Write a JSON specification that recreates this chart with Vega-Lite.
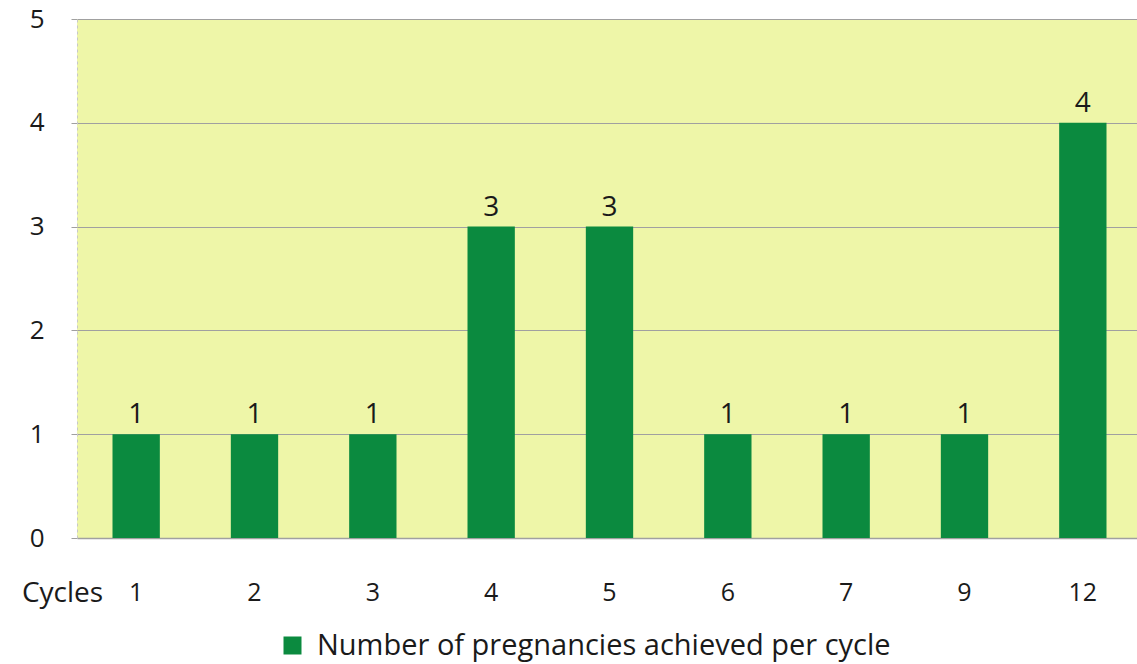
{
  "$schema": "https://vega.github.io/schema/vega-lite/v6.json",
  "width": 1065,
  "height": 519,
  "autosize": {"type": "none"},
  "padding": {"left": 77, "top": 19, "right": 0, "bottom": 126},
  "background": "#ffffff",
  "config": {
    "view": {"fill": "#eef6a8", "stroke": null},
    "font": "Open Sans",
    "axis": {"labelFont": "Open Sans", "titleFont": "Open Sans", "labelColor": "#1a1a1a", "titleColor": "#1a1a1a"}
  },
  "data": {
    "values": [
      {"cycle": "1", "n": 1},
      {"cycle": "2", "n": 1},
      {"cycle": "3", "n": 1},
      {"cycle": "4", "n": 3},
      {"cycle": "5", "n": 3},
      {"cycle": "6", "n": 1},
      {"cycle": "7", "n": 1},
      {"cycle": "9", "n": 1},
      {"cycle": "12", "n": 4}
    ]
  },
  "encoding": {
    "x": {
      "field": "cycle", "type": "nominal", "sort": null,
      "scale": {"paddingInner": 0.6, "paddingOuter": 0.3},
      "axis": {
        "title": "Cycles", "labelAngle": 0, "labelFontSize": 25, "labelPadding": 42,
        "ticks": false, "domainColor": "#a0a0a0", "domainWidth": 1.5,
        "titleFontSize": 28, "titleFontWeight": "normal", "titleAnchor": null,
        "titleX": -15, "titleY": 63, "titleAlign": "center", "titleBaseline": "alphabetic"
      }
    },
    "y": {
      "field": "n", "type": "quantitative",
      "scale": {"domain": [0, 5], "nice": false},
      "axis": {
        "title": null, "values": [0, 1, 2, 3, 4, 5], "labelOverlap": false,
        "labelFontSize": 26, "labelPadding": 27, "tickSize": 6, "tickColor": "#a0a0a0",
        "gridColor": "#a0a0a0", "gridWidth": 1.2, "domainColor": "#c8c8c8", "domainDash": [3, 3]
      }
    }
  },
  "layer": [
    {
      "mark": {"type": "bar", "color": "#0b8a3f"},
      "encoding": {
        "color": {
          "datum": "Number of pregnancies achieved per cycle",
          "scale": {"range": ["#0b8a3f"]},
          "legend": {
            "title": null, "orient": "none", "legendX": 201, "legendY": 612,
            "symbolType": "square", "symbolSize": 324, "symbolStrokeWidth": 0,
            "labelFontSize": 29, "labelLimit": 0, "labelColor": "#1a1a1a", "labelOffset": 10, "labelFont": "Open Sans"
          }
        }
      }
    },
    {
      "mark": {"type": "text", "baseline": "bottom", "dy": -5, "fontSize": 28, "fontWeight": 500, "color": "#1a1a1a"},
      "encoding": {"text": {"field": "n", "type": "quantitative"}}
    }
  ]
}
